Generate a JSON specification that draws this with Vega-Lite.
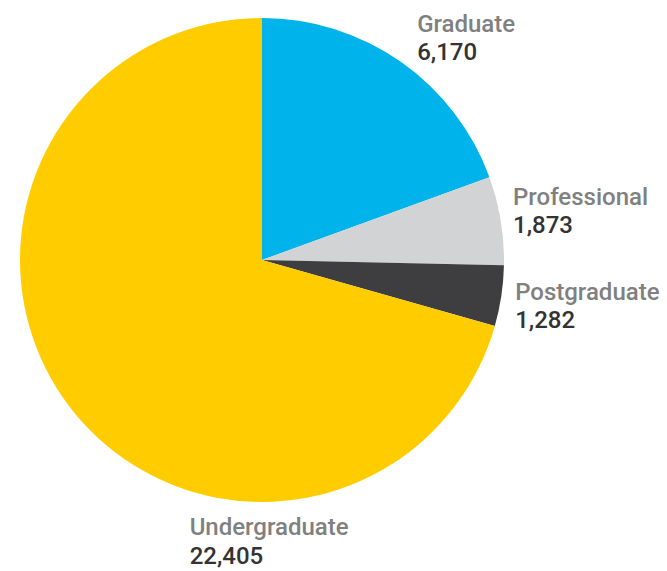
{
  "$schema": "https://vega.github.io/schema/vega-lite/v6.json",
  "width": 524,
  "height": 520,
  "autosize": {"type": "none"},
  "padding": {"left": 0, "top": 0, "right": 143, "bottom": 51},
  "background": "white",
  "config": {"view": {"stroke": null}},
  "data": {
    "values": [
      {"category": "Graduate", "value": 6170, "order": 1},
      {"category": "Professional", "value": 1873, "order": 2},
      {"category": "Postgraduate", "value": 1282, "order": 3},
      {"category": "Undergraduate", "value": 22405, "order": 4}
    ]
  },
  "encoding": {
    "theta": {"field": "value", "type": "quantitative", "stack": true},
    "order": {"field": "order", "type": "quantitative"}
  },
  "layer": [
    {
      "mark": {"type": "arc", "outerRadius": 242, "stroke": null},
      "encoding": {
        "color": {
          "field": "category",
          "type": "nominal",
          "scale": {
            "domain": ["Graduate", "Professional", "Postgraduate", "Undergraduate"],
            "range": ["#00B3EA", "#D1D3D4", "#3E3E40", "#FFCC00"]
          },
          "legend": null
        }
      }
    },
    {"mark": {"type": "text", "radius": 260, "align": "left", "baseline": "alphabetic", "font": "Roboto", "fontWeight": 500, "fontSize": 24, "color": "#808080", "dx": 6, "dy": -15}, "encoding": {"text": {"condition": {"test": "datum.category === 'Graduate'", "field": "category"}, "value": ""}}},
    {"mark": {"type": "text", "radius": 260, "align": "left", "baseline": "alphabetic", "font": "Roboto", "fontWeight": 500, "fontSize": 24, "color": "#333333", "dx": 6, "dy": 13}, "encoding": {"text": {"condition": {"test": "datum.category === 'Graduate'", "field": "value", "type": "quantitative", "format": ","}, "value": ""}}},
    {"mark": {"type": "text", "radius": 260, "align": "left", "baseline": "alphabetic", "font": "Roboto", "fontWeight": 500, "fontSize": 24, "color": "#808080", "dx": -5.5, "dy": -12.7}, "encoding": {"text": {"condition": {"test": "datum.category === 'Professional'", "field": "category"}, "value": ""}}},
    {"mark": {"type": "text", "radius": 260, "align": "left", "baseline": "alphabetic", "font": "Roboto", "fontWeight": 500, "fontSize": 24, "color": "#333333", "dx": -5.5, "dy": 15.3}, "encoding": {"text": {"condition": {"test": "datum.category === 'Professional'", "field": "value", "type": "quantitative", "format": ","}, "value": ""}}},
    {"mark": {"type": "text", "radius": 260, "align": "left", "baseline": "alphabetic", "font": "Roboto", "fontWeight": 500, "fontSize": 24, "color": "#808080", "dx": -4, "dy": 1.5}, "encoding": {"text": {"condition": {"test": "datum.category === 'Postgraduate'", "field": "category"}, "value": ""}}},
    {"mark": {"type": "text", "radius": 260, "align": "left", "baseline": "alphabetic", "font": "Roboto", "fontWeight": 500, "fontSize": 24, "color": "#333333", "dx": -4, "dy": 29.5}, "encoding": {"text": {"condition": {"test": "datum.category === 'Postgraduate'", "field": "value", "type": "quantitative", "format": ","}, "value": ""}}},
    {"mark": {"type": "text", "radius": 260, "align": "left", "baseline": "alphabetic", "font": "Roboto", "fontWeight": 500, "fontSize": 24, "color": "#808080", "dx": 135, "dy": 118}, "encoding": {"text": {"condition": {"test": "datum.category === 'Undergraduate'", "field": "category"}, "value": ""}}},
    {"mark": {"type": "text", "radius": 260, "align": "left", "baseline": "alphabetic", "font": "Roboto", "fontWeight": 500, "fontSize": 24, "color": "#333333", "dx": 135, "dy": 147}, "encoding": {"text": {"condition": {"test": "datum.category === 'Undergraduate'", "field": "value", "type": "quantitative", "format": ","}, "value": ""}}}
  ]
}
